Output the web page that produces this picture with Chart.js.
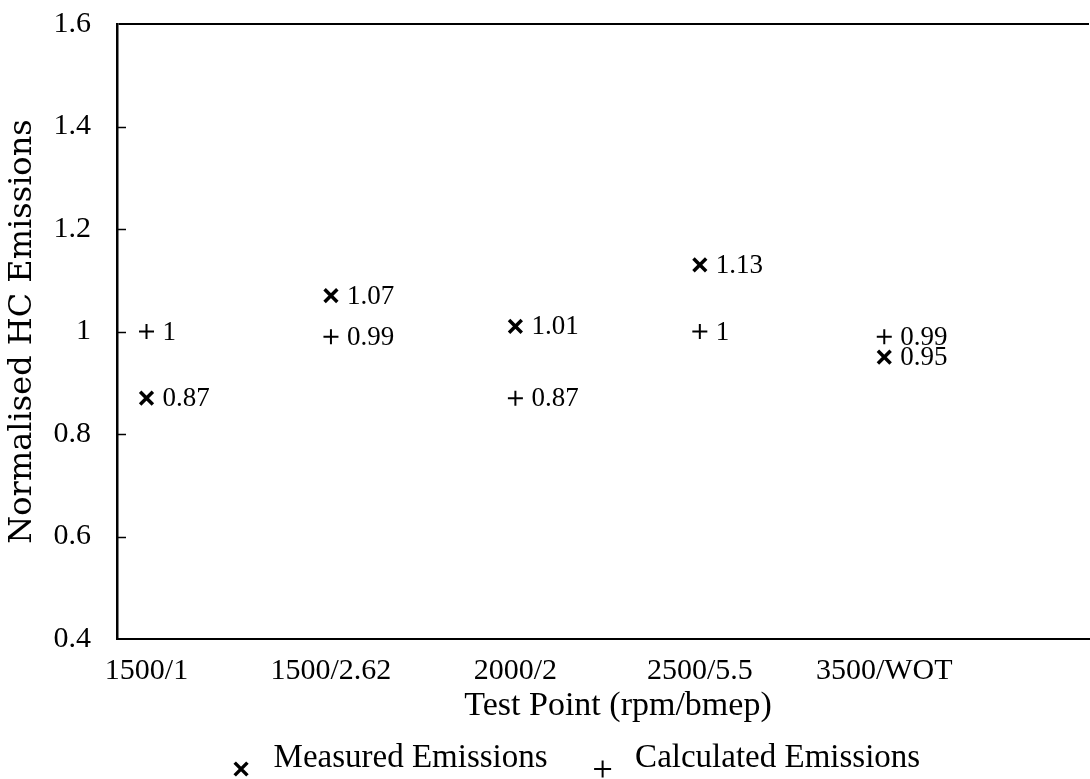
<!DOCTYPE html>
<html>
<head>
<meta charset="utf-8">
<script src="https://cdn.jsdelivr.net/npm/chart.js@4.4.1/dist/chart.umd.min.js"></script>
<style>
  html, body { margin: 0; padding: 0; background: #fff; }
  #wrap { width: 1090px; height: 779px; }
</style>
</head>
<body>
<div id="wrap"><canvas id="c" width="1090" height="779"></canvas></div>
<script>
// ---- data ----
const categories = ['1500/1', '1500/2.62', '2000/2', '2500/5.5', '3500/WOT'];
const measured = [0.87, 1.07, 1.01, 1.13, 0.95];
const calculated = [1, 0.99, 0.87, 1, 0.99];
const yTickValues = [0.4, 0.6, 0.8, 1, 1.2, 1.4, 1.6];
const yTickLabels = ['0.4', '0.6', '0.8', '1', '1.2', '1.4', '1.6'];
const seriesNames = ['Measured Emissions', 'Calculated Emissions'];
const xTitle = 'Test Point (rpm/bmep)';
const yTitle = 'Normalised HC Emissions';

const SERIF = '"Liberation Serif", "Times New Roman", serif';

const toPoints = arr => arr.map((v, i) => ({ x: i, y: v }));

const extras = {
  id: 'extras',
  afterDatasetsDraw(chart) {
    const ctx = chart.ctx;
    const area = chart.chartArea;
    const ys = chart.scales.y;
    // inner tick marks on y axis
    ctx.save();
    ctx.strokeStyle = '#000';
    ctx.lineWidth = 1.5;
    yTickValues.forEach(v => {
      if (v <= yTickValues[0] || v >= yTickValues[yTickValues.length - 1]) return;
      const py = Math.round(ys.getPixelForValue(v)) + 0.5;
      ctx.beginPath();
      ctx.moveTo(area.left, py);
      ctx.lineTo(area.left + 9, py);
      ctx.stroke();
    });
    // value labels next to markers
    ctx.fillStyle = '#000';
    ctx.font = '27px ' + SERIF;
    ctx.textAlign = 'left';
    ctx.textBaseline = 'middle';
    chart.data.datasets.forEach((ds, di) => {
      const meta = chart.getDatasetMeta(di);
      meta.data.forEach((el, i) => {
        ctx.fillText(String(ds.data[i].y), el.x + 16, el.y + 1);
      });
    });
    ctx.restore();
  },
  afterDraw(chart) {
    const ctx = chart.ctx;
    const area = chart.chartArea;
    ctx.save();
    ctx.fillStyle = '#000';
    // x axis title
    ctx.font = '34px ' + SERIF;
    ctx.textAlign = 'center';
    ctx.textBaseline = 'alphabetic';
    ctx.fillText(xTitle, chart.width * 0.567, area.bottom + 76);
    // legend
    ctx.font = '33px ' + SERIF;
    ctx.textAlign = 'left';
    const markGap = 32.5, itemGap = 55, half = 8;
    const widths = seriesNames.map(n => ctx.measureText(n).width);
    const total = half + markGap + widths[0] + itemGap + markGap + widths[1];
    const cx = chart.width * 0.529;
    let x = cx - total / 2 + half;
    const baseY = area.bottom + 128;
    chart.data.datasets.forEach((ds, di) => {
      ctx.strokeStyle = '#000';
      ctx.fillStyle = '#000';
      ctx.lineWidth = ds.borderWidth;
      Chart.helpers.drawPoint(ctx, {
        pointStyle: ds.pointStyle,
        radius: ds.pointRadius + (di === 1 ? 1 : 0),
        rotation: 0,
        borderWidth: ds.borderWidth
      }, x, baseY + 2);
      ctx.fillText(seriesNames[di], x + markGap, baseY);
      x += markGap + widths[di] + itemGap;
    });
    ctx.restore();
  }
};

const chart = new Chart(document.getElementById('c'), {
  type: 'scatter',
  data: {
    datasets: [
      {
        label: seriesNames[0],
        data: toPoints(measured),
        pointStyle: 'crossRot',
        pointRadius: 9,
        borderWidth: 3.5,
        borderColor: '#000',
        backgroundColor: '#000',
        showLine: false
      },
      {
        label: seriesNames[1],
        data: toPoints(calculated),
        pointStyle: 'cross',
        pointRadius: 7.5,
        borderWidth: 2,
        borderColor: '#000',
        backgroundColor: '#000',
        showLine: false
      }
    ]
  },
  options: {
    responsive: false,
    animation: false,
    events: [],
    layout: { autoPadding: false, padding: { left: 0, right: 1, top: 24, bottom: 0 } },
    plugins: {
      legend: { display: false },
      title: { display: false },
      tooltip: { enabled: false }
    },
    scales: {
      x: {
        type: 'linear',
        min: -0.16,
        max: 5.11,
        afterBuildTicks: s => { s.ticks = categories.map((_, i) => ({ value: i })); },
        afterFit: s => { s.height = 140; s.paddingLeft = 0; s.paddingRight = 0; },
        grid: { display: false, drawTicks: false },
        border: { display: true, color: '#000', width: 2 },
        ticks: {
          autoSkip: false,
          maxRotation: 0,
          padding: 14,
          color: '#000',
          font: { family: SERIF, size: 30 },
          callback: v => (categories[v] !== undefined ? categories[v] : '')
        },
        title: { display: false, text: xTitle }
      },
      y: {
        type: 'linear',
        min: 0.4,
        max: 1.6,
        afterBuildTicks: s => { s.ticks = yTickValues.map(v => ({ value: v })); },
        afterFit: s => { s.width = 117; s.paddingTop = 0; s.paddingBottom = 0; },
        grid: {
          display: true,
          drawTicks: false,
          lineWidth: 2,
          color: c => (c.tick && c.tick.value >= 1.6 - 1e-9 ? '#000' : 'rgba(0,0,0,0)')
        },
        border: { display: true, color: '#000', width: 2.5 },
        ticks: {
          padding: 26,
          color: '#000',
          font: { family: SERIF, size: 30 },
          callback: (v, i) => yTickLabels[i]
        },
        title: {
          display: true,
          text: yTitle,
          color: '#000',
          font: { family: '"DejaVu Serif", serif', size: 32 },
          padding: { top: 3, bottom: 0 }
        }
      }
    }
  },
  plugins: [extras]
});
</script>
</body>
</html>
